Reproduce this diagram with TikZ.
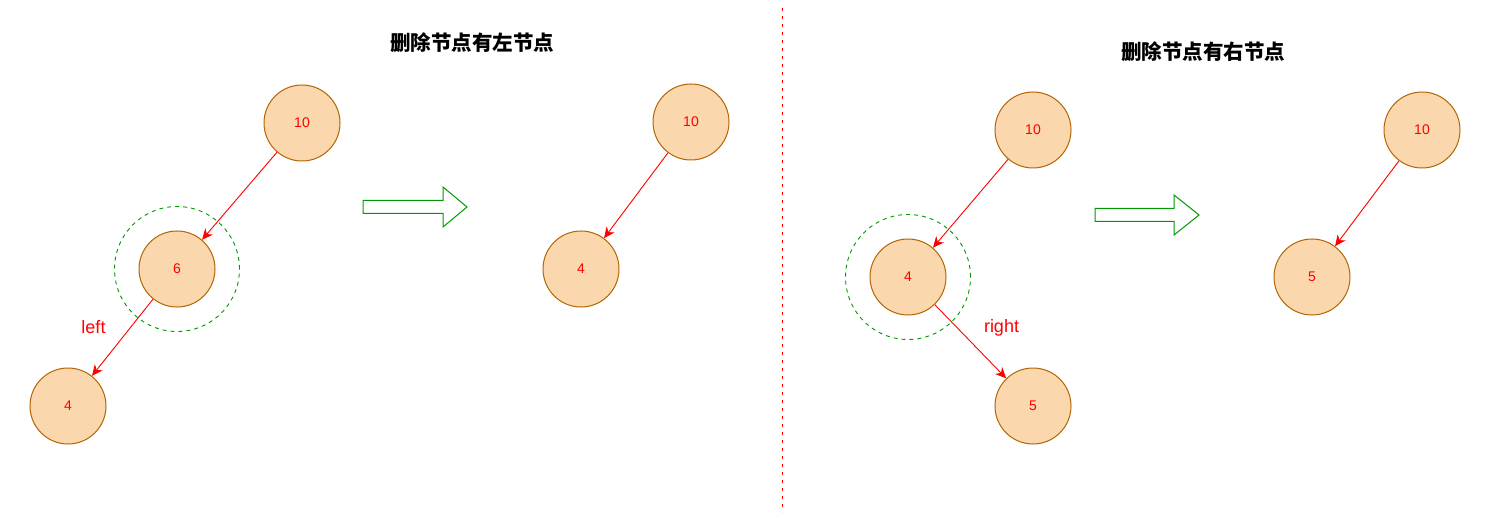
\documentclass[tikz,border=0pt]{standalone}
\usepackage{fontspec}
\setmainfont{Liberation Sans}
\newfontfamily\cjk{Noto Sans CJK SC}
\usepackage{tikz}
\usetikzlibrary{arrows.meta,positioning}

\definecolor{nodefill}{HTML}{FAD7AC}
\definecolor{nodeline}{HTML}{B46504}
\definecolor{ringgreen}{HTML}{009900}

\begin{document}
\begin{tikzpicture}[
    x=1pt, y=-1pt,
    treenode/.style={draw=nodeline, fill=nodefill, circle, line width=1pt, minimum size=76pt, inner sep=0pt, text=red, font=\fontsize{14}{16}\selectfont},
    link/.style={-{Stealth[length=11pt,width=10pt]}, red, line width=0.9pt},
    ring/.style={draw=ringgreen, dashed, dash pattern=on 4pt off 4pt, line width=0.9pt, circle, minimum size=125pt, inner sep=0pt},
    hollow/.style={draw=ringgreen, line width=1pt, fill=white},
    edgelabel/.style={text=red, font=\fontsize{18}{20}\selectfont},
    title/.style={font=\cjk\bfseries\fontsize{20.5}{24}\selectfont}
]
    \useasboundingbox (0,0) rectangle (1495,521);

    % Titles
    \node[title] (t1) at (472,43) {删除节点有左节点};
    \node[title] (t2) at (1203,52) {删除节点有右节点};

    % Divider
    \draw[red, line width=1pt, dash pattern=on 3pt off 5pt] (782,8) -- (782,512);

    % Left case: before
    \node[treenode] (a10) at (302,123) {10};
    \node[ring] (aring) at (177,269) {};
    \node[treenode] (a6) at (177,269) {6};
    \node[treenode] (a4) at (68,406) {4};
    \draw[link] (a10) -- (a6);
    \draw[link] (a6) -- node[edgelabel, xshift=-29pt, yshift=10pt] {left} (a4);

    % Left case: after
    \node[treenode] (b10) at (691,122) {10};
    \node[treenode] (b4) at (581,269) {4};
    \draw[link] (b10) -- (b4);

    % Right case: before
    \node[treenode] (c10) at (1033,130) {10};
    \node[ring] (cring) at (908,277) {};
    \node[treenode] (c4) at (908,277) {4};
    \node[treenode] (c5) at (1033,406) {5};
    \draw[link] (c10) -- (c4);
    \draw[link] (c4) -- node[edgelabel, xshift=31pt, yshift=14pt] {right} (c5);

    % Right case: after
    \node[treenode] (d10) at (1422,130) {10};
    \node[treenode] (d5) at (1312,277) {5};
    \draw[link] (d10) -- (d5);

    % Hollow arrows
    \draw[hollow] (363,200.5) -- (443,200.5) -- (443,187) -- (467,207) -- (443,227) -- (443,213.5) -- (363,213.5) -- cycle;
    \draw[hollow] (1095,208.5) -- (1174,208.5) -- (1174,195) -- (1199,215) -- (1174,235) -- (1174,221.5) -- (1095,221.5) -- cycle;

\end{tikzpicture}
\end{document}
